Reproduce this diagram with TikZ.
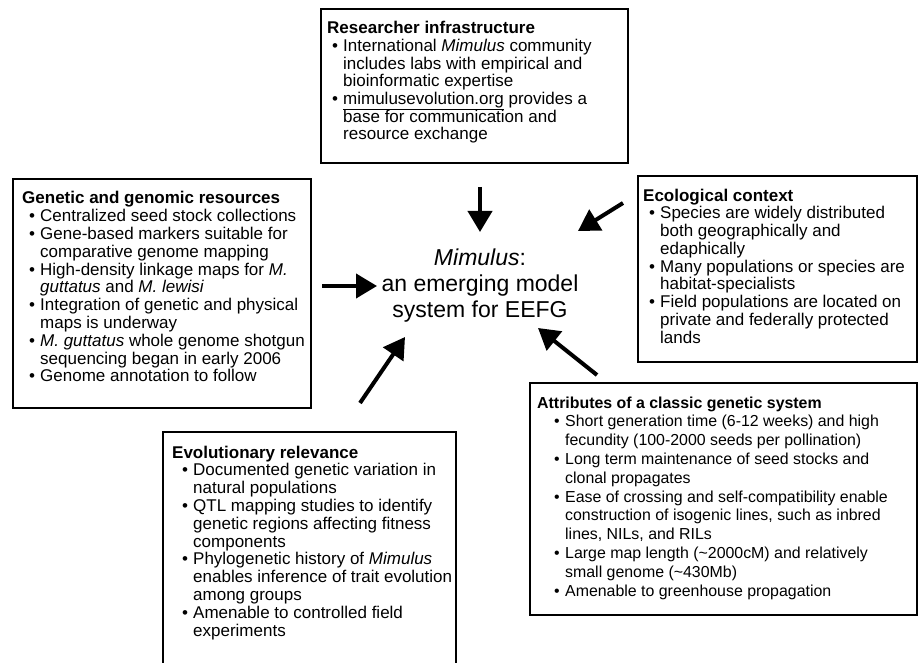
\documentclass[tikz,border=0pt]{standalone}
\usepackage{fontspec}
\setmainfont{Liberation Sans}
\usetikzlibrary{arrows.meta}

\tikzset{
  caja/.style={line width=1.6pt},
  titulo/.style={anchor=base west, inner sep=0pt, font=\fontsize{17}{17.8}\selectfont\bfseries},
  lista/.style={anchor=base west, inner sep=0pt, font=\fontsize{17}{17.8}\selectfont},
  chica/.style={font=\fontsize{15.9}{18.8}\selectfont},
  chicat/.style={font=\fontsize{15.9}{18.8}\selectfont\bfseries},
  centro/.style={align=center, inner sep=0pt, font=\fontsize{23}{26}\selectfont},
  flecha/.style={line width=4pt, -{Triangle[length=21pt,width=24pt]}}
}

\begin{document}
\begin{tikzpicture}[x=1pt,y=-1pt]
    \useasboundingbox (0,0) rectangle (918,663);

    % Cajas
    \draw[caja] (321,9) rectangle (628,163);
    \draw[caja] (13,179) rectangle (311,408);
    \draw[caja] (638,176) rectangle (917,362);
    \draw[caja] (530,383) rectangle (917,615);
    \draw[caja] (163,670) -- (163,432) -- (456,432) -- (456,670);

    % Researcher infrastructure
    \node[titulo] (resT) at (327,34) {Researcher infrastructure};
    \node[lista, font=\fontsize{17}{17.5}\selectfont] (resL) at (332,51.5) {\begin{tabular}[t]{@{}p{11pt}@{}l@{}}
      \textbullet & International \textit{Mimulus} community\\
                  & includes labs with empirical and\\
                  & bioinformatic expertise\\
      \textbullet & \underline{mimulusevolution.org} provides a\\
                  & base for communication and\\
                  & resource exchange
    \end{tabular}};

    % Genetic and genomic resources
    \node[titulo] (genT) at (22,204) {Genetic and genomic resources};
    \node[lista] (genL) at (29,221.8) {\begin{tabular}[t]{@{}p{11pt}@{}l@{}}
      \textbullet & Centralized seed stock collections\\
      \textbullet & Gene-based markers suitable for\\
                  & comparative genome mapping\\
      \textbullet & High-density linkage maps for \textit{M.}\\
                  & \textit{guttatus} and \textit{M. lewisi}\\
      \textbullet & Integration of genetic and physical\\
                  & maps is underway\\
      \textbullet & \textit{M. guttatus} whole genome shotgun\\
                  & sequencing began in early 2006\\
      \textbullet & Genome annotation to follow
    \end{tabular}};

    % Ecological context
    \node[titulo] (ecoT) at (643,201) {Ecological context};
    \node[lista] (ecoL) at (649,218.8) {\begin{tabular}[t]{@{}p{11pt}@{}l@{}}
      \textbullet & Species are widely distributed\\
                  & both geographically and\\
                  & edaphically\\
      \textbullet & Many populations or species are\\
                  & habitat-specialists\\
      \textbullet & Field populations are located on\\
                  & private and federally protected\\
                  & lands
    \end{tabular}};

    % Attributes of a classic genetic system
    \node[titulo, chicat] (atrT) at (537,408) {Attributes of a classic genetic system};
    \node[lista, chica] (atrL) at (554,426.8) {\begin{tabular}[t]{@{}p{11pt}@{}l@{}}
      \textbullet & Short generation time (6-12 weeks) and high\\
                  & fecundity (100-2000 seeds per pollination)\\
      \textbullet & Long term maintenance of seed stocks and\\
                  & clonal propagates\\
      \textbullet & Ease of crossing and self-compatibility enable\\
                  & construction of isogenic lines, such as inbred\\
                  & lines, NILs, and RILs\\
      \textbullet & Large map length (\char"007E 2000cM) and relatively\\
                  & small genome (\char"007E 430Mb)\\
      \textbullet & Amenable to greenhouse propagation
    \end{tabular}};

    % Evolutionary relevance
    \node[titulo] (evoT) at (172,458) {Evolutionary relevance};
    \node[lista] (evoL) at (182,475.8) {\begin{tabular}[t]{@{}p{11pt}@{}l@{}}
      \textbullet & Documented genetic variation in\\
                  & natural populations\\
      \textbullet & QTL mapping studies to identify\\
                  & genetic regions affecting fitness\\
                  & components\\
      \textbullet & Phylogenetic history of \textit{Mimulus}\\
                  & enables inference of trait evolution\\
                  & among groups\\
      \textbullet & Amenable to controlled field\\
                  & experiments
    \end{tabular}};

    % Centro
    \node[centro] (mim) at (480,286) {\textit{Mimulus}:\\an emerging model\\system for EEFG};

    % Flechas
    \coordinate (resA) at (480,187);  \coordinate (resB) at (480,232);
    \coordinate (ecoA) at (623,203);  \coordinate (ecoB) at (578,231);
    \coordinate (genA) at (322,286);  \coordinate (genB) at (377,286);
    \coordinate (evoA) at (360,403);  \coordinate (evoB) at (405,337);
    \coordinate (atrA) at (597,375);  \coordinate (atrB) at (538,328);
    \draw[flecha] (resA) -- (resB);
    \draw[flecha] (ecoA) -- (ecoB);
    \draw[flecha] (genA) -- (genB);
    \draw[flecha] (evoA) -- (evoB);
    \draw[flecha] (atrA) -- (atrB);

\end{tikzpicture}
\end{document}
